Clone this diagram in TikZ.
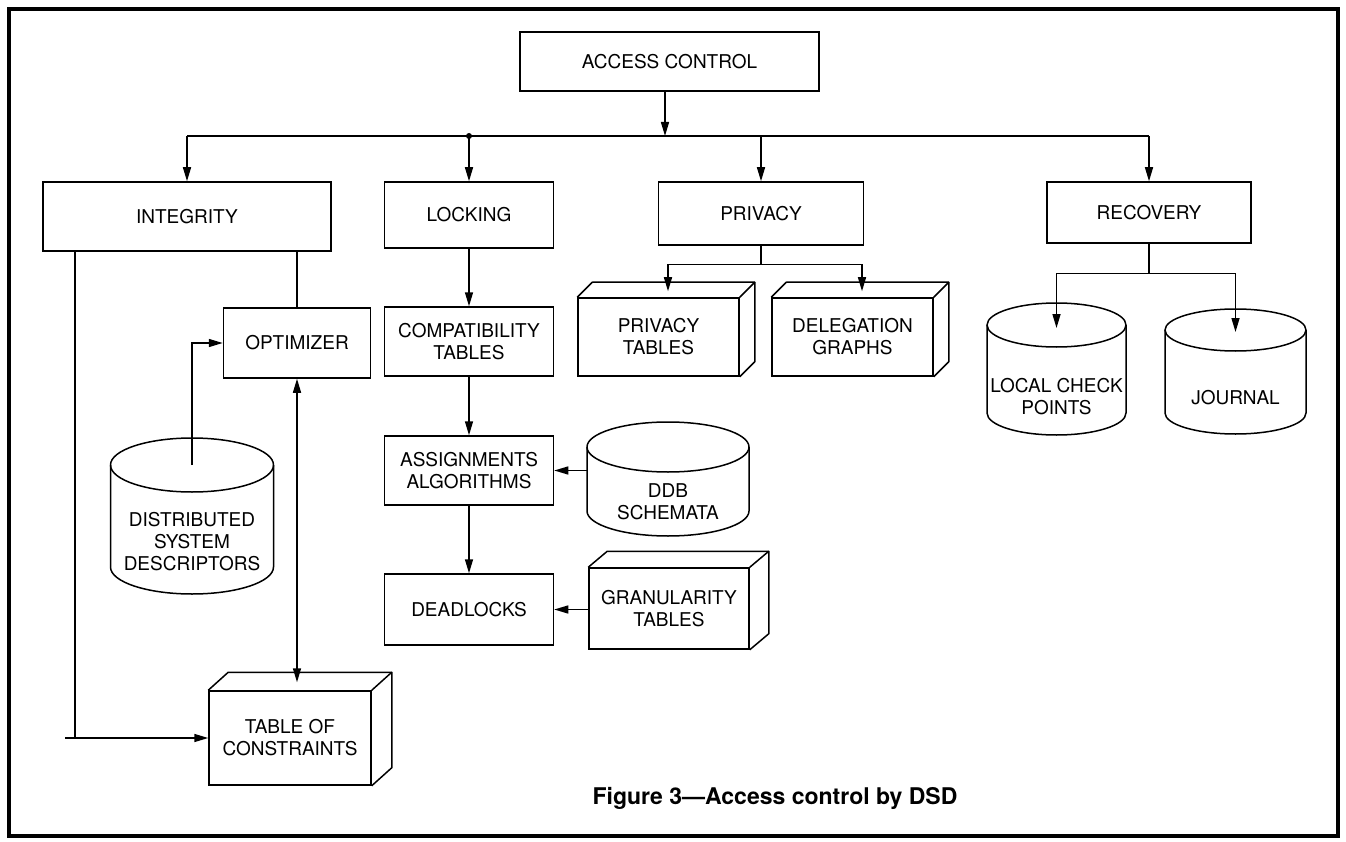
\documentclass[tikz,border=0pt]{standalone}
\usepackage{fontspec}
\setmainfont{TeX Gyre Heros}
\usetikzlibrary{arrows.meta,calc}

% front face node #1, receding top and right faces shifted by (#2 right, #3 up)
\newcommand\depthbox[3]{%
  \draw[outl] (#1.north west) -- ++(#2,-#3) -- ($(#1.north east)+(#2,-#3)$)
     -- ($(#1.south east)+(#2,-#3)$) -- (#1.south east);
  \draw[outl] (#1.north east) -- ++(#2,-#3);}

% storage cylinder: name, centre x, top-ellipse y, bottom-ellipse y, rx, ry, label y, label
\newcommand\dbcyl[8]{%
  \pgfmathsetmacro\cylw{2*#5}%
  \pgfmathsetmacro\cylh{#4-#3}%
  \node[inner sep=0pt, minimum width=\cylw pt, minimum height=\cylh pt] (#1) at (#2,{(#3+#4)/2}) {};
  \coordinate (#1-top) at (#2,#3);
  \draw[outl] (#2-#5,#3) -- (#2-#5,#4) arc[start angle=180, end angle=0, x radius=#5, y radius=#6] -- (#2+#5,#3);
  \draw[outl] (#2,#3) ellipse [x radius=#5, y radius=#6];
  \node[lbl] (#1-label) at (#2,#7) {#8};}

\begin{document}
\begin{tikzpicture}[x=1pt,y=-1pt,
  outl/.style={line width=1.5pt, line join=round},
  box/.style={draw, line width=1.5pt, inner sep=0pt, align=center,
              font=\fontsize{19}{22}\selectfont},
  lbl/.style={inner sep=0pt, align=center, font=\fontsize{19}{22}\selectfont},
  arr/.style={line width=1.5pt, -{Triangle[length=14pt,width=8pt]}},
  biarr/.style={line width=1.5pt, {Triangle[length=14pt,width=8pt]}-{Triangle[length=14pt,width=8pt]}},
]
\useasboundingbox (0,0) rectangle (1346,842);
\draw[line width=3.5pt] (9,9) rectangle (1338,836);

% top level
\node[box, minimum width=299pt, minimum height=59pt] (access) at (669.5,61.5) {ACCESS CONTROL};
\node[box, minimum width=288pt, minimum height=69pt] (integ) at (187,216.5) {INTEGRITY};
\node[box, minimum width=169pt, minimum height=66pt] (lock) at (469,215) {LOCKING};
\node[box, minimum width=205pt, minimum height=63pt] (priv) at (761,213.5) {PRIVACY};
\node[box, minimum width=204pt, minimum height=61pt] (recov) at (1149,212.5) {RECOVERY};

\coordinate (hub) at (665,136);
\coordinate (busL) at (187,136);
\coordinate (busR) at (1149,136);
\draw[arr] (access.south -| hub) -- (hub);
\draw[outl] (busL) -- (busR);
\fill (lock.north |- hub) circle (3pt);
\draw[arr] (integ.north |- hub) -- (integ.north);
\draw[arr] (lock.north |- hub) -- (lock.north);
\draw[arr] (priv.north |- hub) -- (priv.north);
\draw[arr] (recov.north |- hub) -- (recov.north);

% integrity branch
\node[box, minimum width=147pt, minimum height=70pt] (optim) at (297,343) {OPTIMIZER};
\node[box, minimum width=162pt, minimum height=94pt] (tabcon) at (290,738) {TABLE OF\\CONSTRAINTS};
\depthbox{tabcon}{20}{18}
\dbcyl{dsd}{192}{465}{567}{81.5}{27}{542}{DISTRIBUTED\\SYSTEM\\DESCRIPTORS}

\coordinate (ileft) at (75,738);
\coordinate (istub) at (65,738);
\draw[outl] (integ.south -| ileft) -- (ileft);
\draw[arr] (istub) -- (tabcon.west);
\draw[outl] (integ.south -| optim.north) -- (optim.north);
\draw[arr] (dsd-top) |- (optim.west);
\path ([yshift=8pt]tabcon.north) coordinate (tctop);
\draw[biarr] (optim.south) -- (optim.south |- tctop);

% locking branch
\node[box, minimum width=169pt, minimum height=69pt] (compat) at (469,341.5) {COMPATIBILITY\\TABLES};
\node[box, minimum width=169pt, minimum height=69pt] (assign) at (469,470.5) {ASSIGNMENTS\\ALGORITHMS};
\node[box, minimum width=169pt, minimum height=71pt] (dead) at (469,609.5) {DEADLOCKS};
\dbcyl{ddb}{668}{447}{511}{81}{25}{502}{DDB\\SCHEMATA}
\node[box, minimum width=160pt, minimum height=81pt] (granul) at (669,608.5) {GRANULARITY\\TABLES};
\depthbox{granul}{19}{16}

\draw[arr] (lock.south) -- (compat.north);
\draw[arr] (compat.south) -- (assign.north);
\draw[arr] (assign.south) -- (dead.north);
\draw[arr] (ddb.west |- assign.east) -- (assign.east);
\draw[arr] (granul.west |- dead.east) -- (dead.east);

% privacy branch
\node[box, minimum width=161pt, minimum height=78pt] (ptab) at (658.5,337) {PRIVACY\\TABLES};
\depthbox{ptab}{15}{15}
\node[box, minimum width=161pt, minimum height=78pt] (deleg) at (852.5,337) {DELEGATION\\GRAPHS};
\depthbox{deleg}{15}{15}
\coordinate (pj) at ([yshift=-19pt]priv.south);
\draw[outl] (priv.south) -- (pj);
\draw[arr] (pj) -| ([xshift=9.5pt,yshift=6pt]ptab.north);
\draw[arr] (pj) -| ([xshift=9.5pt,yshift=6pt]deleg.north);

% recovery branch
\dbcyl{lcp}{1056.5}{325}{413}{69.5}{22}{397}{LOCAL CHECK\\POINTS}
\dbcyl{jrn}{1235.5}{330}{413}{70.5}{21}{398}{JOURNAL}
\coordinate (rj) at ([yshift=-30pt]recov.south);
\draw[outl] (recov.south) -- (rj);
\draw[arr] (rj) -| ([yshift=-3pt]lcp-top);
\draw[arr] (rj) -| ([yshift=-2pt]jrn-top);

% caption
\node[inner sep=0pt, font=\bfseries\fontsize{23}{27}\selectfont] (cap) at (775,798)
  {Figure 3\textemdash Access control by DSD};
\end{tikzpicture}
\end{document}
